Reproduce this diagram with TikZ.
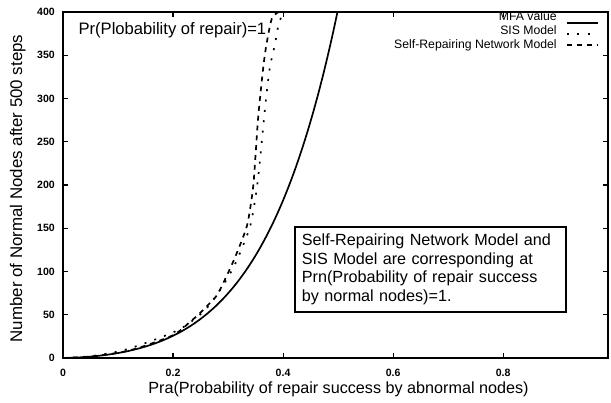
\documentclass[tikz,border=0pt]{standalone}
\usepackage{fontspec}
\setmainfont{Liberation Sans}
\usetikzlibrary{positioning, calc}

\begin{document}
\begin{tikzpicture}[x=0.025cm, y=0.025cm]
\tikzset{frame/.style={draw=black, line width=1.2pt},
    tickmark/.style={draw=black, line width=0.8pt},
    mfa/.style={line width=1.2pt},
    sis/.style={line width=1.2pt, dash pattern=on 1.4pt off 6pt},
    srn/.style={line width=1.2pt, dash pattern=on 3.5pt off 3.5pt},
    ticklabel/.style={inner sep=0pt, font=\fontsize{7.5}{9}\selectfont\bfseries},
    keytext/.style={anchor=base east, inner sep=0pt, font=\fontsize{8.7}{10}\selectfont},
    title/.style={anchor=base, inner sep=0pt},
    notebox/.style={draw=black, line width=1.2pt, align=left, text width=6.42cm,
    inner xsep=0.175cm, inner ysep=0pt, minimum height=2.14cm,
    font=\fontsize{11.5}{13.25}\selectfont}
}
\useasboundingbox (0,0) rectangle (611,402);

    % plot area, data units
    \begin{scope}[shift={(1.575cm,1.1cm)}, x=13.75cm, y=0.021625cm]
    \coordinate (origin) at (0,0);
    \coordinate (corner) at (0.991,400);

    \begin{scope}
    \clip (origin) rectangle (corner);
    \def\a{114.4}
    \def\k{4.6}
    \draw[mfa, samples=120, variable=\t, domain=0:0.5] plot ({\t}, {\a*\t*sqrt(\t)*exp(\k*\t)});
    \draw[sis] plot[smooth] coordinates {(0,0) (0.05,2) (0.1,7.5) (0.128,12.5) (0.164,20.5) (0.182,24.8) (0.216,34.6) (0.249,50) (0.267,62) (0.29,83) (0.31,105) (0.326,128) (0.340,152) (0.348,178) (0.354,205) (0.359,235) (0.365,275) (0.370,305) (0.376,336) (0.3855,363.5) (0.392,386) (0.4005,400)} -- (0.991,400);
    \draw[srn] plot[smooth] coordinates {(0,0) (0.05,1.7) (0.1,6) (0.128,10) (0.146,13.5) (0.182,21.6) (0.2005,26.6) (0.2158,33.1) (0.231,41.9) (0.246,50) (0.2704,65.8) (0.2824,75.4) (0.3067,107.6) (0.322,131) (0.334,152) (0.340,172) (0.346,200) (0.350,235) (0.355,280) (0.364,336) (0.370,363) (0.3795,392) (0.392,400)} -- (0.991,400);
    \end{scope}

    \foreach \y in {0,50,...,400}{
      \draw[tickmark] (0,\y) -- ++(0.125cm,0);
      \draw[tickmark] (0.991,\y) -- ++(-0.125cm,0);
      \path (0,\y) node[ticklabel, anchor=east, xshift=-0.2cm] {\y};
    }
    \foreach \x in {0,0.2,0.4,0.6,0.8}{
      \draw[tickmark] (\x,0) -- ++(0,0.125cm);
      \draw[tickmark] (\x,400) -- ++(0,-0.125cm);
      \path (\x,0) node[ticklabel, anchor=base, yshift=-0.4675cm] {\x};
    }
    \draw[frame] (origin) rectangle (corner);
    \end{scope}

    % titles
    \path (338.5,9) node[title, font=\fontsize{11.5}{14}\selectfont] (xtitle) {Pra(Probability of repair success by abnormal nodes)};
    \path (22,213.5) node[title, rotate=90, font=\fontsize{12}{14}\selectfont] (ytitle) {Number of Normal Nodes after 500 steps};
    \path (78.3,367) node[anchor=base west, inner sep=0pt, font=\fontsize{11.8}{14}\selectfont] (prnote) {Pr(Plobability of repair)=1};

    % key
    \path (557,381.3) node[keytext] (mfakey) {MFA value};
    \path (557,367.3) node[keytext] (siskey) {SIS Model};
    \path (557,353.7) node[keytext] (srnkey) {Self-Repairing Network Model};
    \coordinate (mfa_a) at ($(mfakey.base east)+(10,-2)$);
    \coordinate (mfa_b) at ($(mfa_a)+(31,0)$);
    \coordinate (sis_a) at ($(siskey.base east)+(10,0.4)$);
    \coordinate (sis_b) at ($(sis_a)+(31,0)$);
    \coordinate (srn_a) at ($(srnkey.base east)+(10,3.3)$);
    \coordinate (srn_b) at ($(srn_a)+(31,0)$);
    \draw[mfa] (mfa_a) -- (mfa_b);
    \draw[sis] (sis_a) -- (sis_b);
    \draw[srn] (srn_a) -- (srn_b);

    % note
    \path (430.35,132.5) node[notebox] (note) {Self-Repairing Network Model and\\SIS Model are corresponding at\\Prn(Probability of repair success\\by normal nodes)=1.};

\end{tikzpicture}
\end{document}
